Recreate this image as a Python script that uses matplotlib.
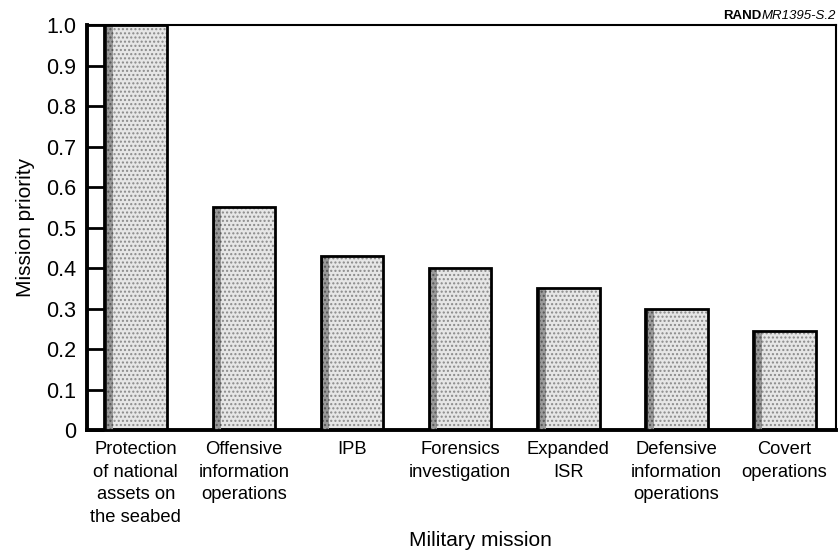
import matplotlib.pyplot as plt
import numpy as np

plt.rcParams['font.family'] = ['Liberation Sans', 'DejaVu Sans']

missions = ['Protection\nof national\nassets on\nthe seabed',
            'Offensive\ninformation\noperations',
            'IPB',
            'Forensics\ninvestigation',
            'Expanded\nISR',
            'Defensive\ninformation\noperations',
            'Covert\noperations']
priority = [1.0, 0.55, 0.43, 0.40, 0.35, 0.30, 0.245]
yticks = [0, 0.1, 0.2, 0.3, 0.4, 0.5, 0.6, 0.7, 0.8, 0.9, 1.0]
ytick_labels = ['0', '0.1', '0.2', '0.3', '0.4', '0.5', '0.6', '0.7', '0.8', '0.9', '1.0']

fig = plt.figure(figsize=(8.38, 5.58), dpi=100)
ax = fig.add_axes([0.104, 0.229, 0.894, 0.726])

x = np.arange(len(missions))
w = 0.58
# stippled grey bars, darker shading down the left side
ax.bar(x, priority, width=w, color='#e6e6e6', edgecolor='#8a8a8a',
       hatch='....', linewidth=0, zorder=2)
ax.bar(x - w/2 + 0.04, priority, width=0.08, color='#9a9a9a',
       edgecolor='#555555', hatch='....', linewidth=0, zorder=3)
ax.bar(x - w/2 + 0.012, priority, width=0.025, color='#222222',
       linewidth=0, zorder=3)
ax.bar(x, priority, width=w, fill=False, edgecolor='black',
       linewidth=2, zorder=4)

ax.set_xlim(-0.45, 6.48)
ax.set_ylim(0, 1.0)
ax.set_yticks(yticks)
ax.set_yticklabels(ytick_labels, fontsize=15.5)
ax.set_xticks(x)
ax.set_xticklabels(missions, fontsize=13.2, linespacing=1.42, va='top')
ax.tick_params(axis='x', length=0, pad=8)
ax.tick_params(axis='y', direction='in', length=12, width=2, pad=8)

for s in ['left', 'bottom']:
    ax.spines[s].set_linewidth(2.8)
for s in ['top', 'right']:
    ax.spines[s].set_linewidth(1.5)

ax.set_ylabel('Mission priority', fontsize=15, labelpad=8)
ax.set_xlabel('Military mission', fontsize=15)
ax.xaxis.set_label_coords(0.525, -0.25)

# figure id in the top-right corner: bold RAND followed by italic number
tag = fig.text(0.997, 0.972, 'MR1395-S.2', fontsize=9.5, style='italic',
               ha='right', va='center')
fig.canvas.draw()
left = tag.get_window_extent().x0 / fig.bbox.width
fig.text(left, 0.972, 'RAND', fontsize=9.5, fontweight='bold',
         ha='right', va='center')

plt.savefig('out.png', dpi=100)
